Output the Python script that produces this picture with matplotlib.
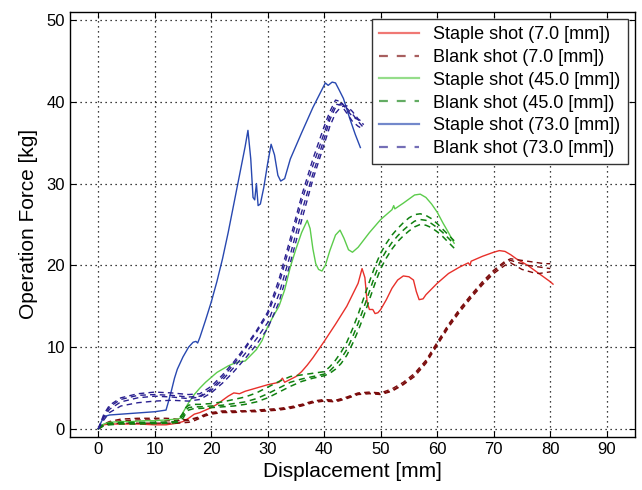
import matplotlib
matplotlib.use("Agg")
import matplotlib.pyplot as plt
from matplotlib.lines import Line2D

plt.rcParams['font.family'] = ['Liberation Sans', 'DejaVu Sans']

# ---------------- data ----------------
# Staple shot 7.0 mm
s7_x = [0, 0.5, 1, 2, 4, 7, 10, 12, 14, 15, 16, 17, 18, 19, 20, 21, 22, 23, 24, 25, 26, 28, 30, 32,
        32.6, 33.0, 35, 36, 37, 38, 39, 40, 42, 44, 46, 46.7, 47.2, 47.6, 48, 48.6, 49, 49.5, 50, 51,
        52, 53, 54, 55, 55.8, 56.3, 56.8, 57.5, 58, 60, 62, 64, 65.5, 65.8, 66, 68, 70, 71, 72, 73,
        74, 76, 78, 80, 80.5]
s7_y = [0, 0.3, 0.5, 0.6, 0.6, 0.6, 0.5, 0.5, 0.7, 0.9, 1.3, 1.8, 2.0, 2.3, 2.6, 3.0, 3.5, 4.0, 4.4,
        4.3, 4.6, 5.0, 5.4, 5.7, 6.2, 5.7, 6.4, 7.0, 7.8, 8.7, 9.7, 10.7, 12.8, 15.0, 17.8, 19.6,
        18.5, 15.5, 14.6, 14.6, 14.1, 14.2, 14.6, 15.8, 17.2, 18.2, 18.7, 18.6, 18.2, 16.8, 15.8,
        15.9, 16.4, 17.8, 19.0, 19.8, 20.3, 20.0, 20.5, 21.1, 21.6, 21.8, 21.7, 21.3, 20.8, 20.0,
        19.0, 18.0, 17.7]

# Blank shot 7.0 mm (three repeats)
b7_x = [0, 1, 2, 4, 7, 10, 12, 14, 16, 17, 18, 19, 20, 22, 24, 26, 28, 30, 32, 34, 36, 38, 40, 42,
        44, 46, 48, 50, 52, 54, 56, 58, 60, 62, 64, 66, 68, 70, 72, 73, 74, 75, 76, 77, 78, 79, 80]
b7_y1 = [0, 0.6, 0.9, 1.2, 1.3, 1.3, 1.3, 1.2, 1.1, 1.3, 1.5, 1.8, 2.0, 2.2, 2.2, 2.2, 2.3, 2.4,
         2.5, 2.7, 3.0, 3.4, 3.6, 3.5, 3.9, 4.4, 4.5, 4.4, 4.9, 5.7, 6.8, 8.4, 10.6, 12.8, 14.7,
         16.4, 18.0, 19.4, 20.5, 20.8, 20.7, 20.6, 20.5, 20.4, 20.3, 20.2, 20.2]
b7_y2 = [0, 0.4, 0.6, 0.7, 0.7, 0.7, 0.7, 0.7, 0.8, 1.0, 1.3, 1.6, 1.8, 2.0, 2.0, 2.1, 2.1, 2.2,
         2.3, 2.5, 2.8, 3.2, 3.4, 3.3, 3.7, 4.2, 4.3, 4.2, 4.6, 5.4, 6.4, 8.0, 10.2, 12.4, 14.3,
         16.0, 17.6, 19.0, 20.0, 20.3, 19.9, 19.5, 19.3, 19.1, 19.0, 19.1, 19.2]
b7_y3 = [0, 0.5, 0.8, 1.0, 1.1, 1.1, 1.0, 1.0, 1.0, 1.2, 1.4, 1.7, 1.9, 2.1, 2.1, 2.2, 2.2, 2.3,
         2.4, 2.6, 2.9, 3.3, 3.5, 3.4, 3.8, 4.3, 4.4, 4.3, 4.7, 5.5, 6.6, 8.2, 10.4, 12.6, 14.5,
         16.2, 17.8, 19.2, 20.3, 20.6, 20.4, 20.2, 20.0, 19.9, 19.8, 19.7, 19.6]

# Staple shot 45.0 mm
s45_x = [0, 0.5, 1, 2, 4, 6, 8, 10, 12, 14, 14.5, 15, 16, 17, 18, 19, 20, 21, 22, 23, 24, 25, 26,
         28, 29, 30, 31, 32, 33, 34, 35, 36, 37, 37.5, 38, 38.5, 39, 39.6, 40.2, 41, 42, 42.8,
         43.5, 44.3, 45, 46, 48, 50, 52, 52.3, 52.5, 54, 56, 57, 58, 59, 60, 61, 62, 63]
s45_y = [0, 0.4, 0.6, 0.8, 0.9, 0.9, 1.0, 1.0, 1.1, 1.2, 1.3, 2.0, 3.2, 4.2, 5.0, 5.7, 6.3, 6.9,
         7.3, 7.7, 8.0, 8.2, 8.3, 9.7, 10.8, 12.5, 13.8, 15.0, 17.0, 19.8, 22.0, 24.0, 25.5, 24.5,
         22.0, 20.2, 19.5, 19.3, 20.0, 21.8, 23.7, 24.3, 23.3, 21.9, 21.6, 22.2, 24.0, 25.6, 26.8,
         27.3, 26.9, 27.6, 28.6, 28.7, 28.3, 27.5, 26.5, 25.2, 24.0, 22.7]

# Blank shot 45.0 mm (three repeats)
b45_x = [0, 1, 2, 4, 7, 10, 13, 14, 15, 15.5, 16, 17, 18, 20, 22, 24, 26, 28, 30, 32, 34, 36, 38,
         40, 41, 42, 43, 44, 45, 46, 47, 48, 49, 50, 51, 52, 53, 54, 55, 56, 57, 58, 59, 60, 61, 62, 63]
b45_y1 = [0, 0.5, 0.6, 0.7, 0.7, 0.75, 0.8, 0.9, 1.6, 2.3, 2.6, 2.7, 2.7, 2.8, 2.9, 3.1, 3.3, 3.7,
          4.3, 5.0, 5.7, 6.1, 6.4, 6.7, 7.1, 7.8, 8.6, 9.7, 11.2, 12.9, 14.8, 16.8, 18.8, 20.6,
          21.8, 22.8, 23.6, 24.3, 24.9, 25.4, 25.6, 25.5, 25.1, 24.6, 24.0, 23.3, 22.6]
b45_y2 = [0, 0.6, 0.7, 0.8, 0.8, 0.8, 0.85, 1.0, 1.9, 2.6, 2.9, 3.0, 3.0, 3.1, 3.3, 3.6, 3.9, 4.4,
          5.1, 5.8, 6.4, 6.6, 6.8, 7.0, 7.6, 8.4, 9.4, 10.6, 12.2, 14.0, 16.0, 18.0, 19.9, 21.5,
          22.7, 23.7, 24.5, 25.2, 25.8, 26.2, 26.3, 26.1, 25.7, 25.1, 24.4, 23.7, 23.0]
b45_y3 = [0, 0.4, 0.5, 0.6, 0.6, 0.65, 0.7, 0.8, 1.3, 1.9, 2.3, 2.5, 2.5, 2.6, 2.7, 2.8, 3.0, 3.3,
          3.8, 4.5, 5.2, 5.8, 6.2, 6.5, 6.8, 7.3, 8.0, 9.0, 10.4, 12.0, 13.8, 15.8, 17.8, 19.6,
          20.9, 22.0, 22.9, 23.6, 24.2, 24.7, 25.0, 24.9, 24.6, 24.1, 23.5, 22.8, 22.1]

# Staple shot 73.0 mm
s73_x = [0, 0.5, 1, 2, 4, 6, 8, 10, 12, 12.5, 13, 13.5, 14, 15, 16, 16.8, 17.3, 17.6, 18, 19, 20,
         21, 22, 23, 24, 25, 26, 26.5, 27, 27.4, 27.7, 28.0, 28.3, 28.7, 29.3, 30, 30.6, 31.2, 31.8,
         32.3, 33, 34, 36, 38, 40.2, 40.7, 41.4, 42, 42.6, 43.4, 44.5, 45.5, 46.4]
s73_y = [0, 0.8, 1.5, 1.7, 1.8, 1.9, 2.0, 2.1, 2.3, 3.5, 4.8, 6.2, 7.3, 8.8, 10.0, 10.6, 10.7, 10.5,
         11.2, 13.3, 15.5, 18.0, 20.8, 24.0, 27.5, 31.0, 34.5, 36.5, 33.0, 28.3, 28.0, 30.0, 27.3,
         27.5, 29.5, 32.5, 34.8, 33.5, 31.0, 30.3, 30.6, 33.0, 36.2, 39.3, 42.3, 42.0, 42.4, 42.3,
         41.5, 40.4, 38.0, 36.0, 34.4]

# Blank shot 73.0 mm (four repeats)
b73_x = [0, 1, 2, 4, 7, 10, 13, 16, 18, 20, 22, 24, 26, 28, 30, 32, 34, 36, 38, 40, 41, 42, 43,
         44, 45, 46, 47]
b73_y1 = [0, 1.8, 2.9, 3.8, 4.3, 4.5, 4.4, 4.2, 4.3, 5.2, 6.6, 8.2, 10.0, 12.0, 14.3, 18.3, 23.3,
          28.5, 33.0, 37.0, 38.8, 40.2, 40.0, 39.0, 38.2, 37.8, 37.2]
b73_y2 = [0, 1.4, 2.4, 3.3, 3.8, 4.0, 3.9, 3.7, 3.9, 4.7, 6.0, 7.5, 9.2, 11.0, 13.0, 16.5, 21.3,
          26.5, 31.2, 35.5, 37.8, 39.3, 39.8, 39.2, 38.5, 37.6, 36.8]
b73_y3 = [0, 1.1, 2.0, 2.8, 3.2, 3.4, 3.5, 3.4, 3.6, 4.4, 5.6, 7.0, 8.6, 10.3, 12.3, 15.5, 20.3,
          25.5, 30.5, 34.8, 37.0, 38.6, 39.4, 39.5, 38.8, 37.9, 37.4]
b73_y4 = [0, 1.6, 2.7, 3.6, 4.1, 4.2, 4.1, 3.9, 4.0, 4.9, 6.3, 7.9, 9.8, 11.8, 14.0, 17.7, 22.6,
          27.8, 32.2, 36.2, 38.3, 39.7, 39.6, 38.6, 37.6, 37.0, 36.6]

labels = ['Staple shot (7.0 [mm])', 'Blank shot (7.0 [mm])',
          'Staple shot (45.0 [mm])', 'Blank shot (45.0 [mm])',
          'Staple shot (73.0 [mm])', 'Blank shot (73.0 [mm])']

x_ticks = [0, 10, 20, 30, 40, 50, 60, 70, 80, 90]
y_ticks = [0, 10, 20, 30, 40, 50]

# ---------------- style ----------------
c_s7, c_b7 = '#e8302a', '#7a0a0a'
c_s45, c_b45 = '#5ccc4c', '#108010'
c_s73, c_b73 = '#2848b0', '#2a2090'
dash = (4, 3)

fig = plt.figure(figsize=(6.42, 4.9), dpi=100)
ax = fig.add_axes([0.109, 0.108, 0.880, 0.868])

ax.plot(s7_x, s7_y, color=c_s7, lw=1.0)
for yy in (b7_y1, b7_y2, b7_y3):
    ax.plot(b7_x, yy, color=c_b7, lw=1.0, dashes=dash)
ax.plot(s45_x, s45_y, color=c_s45, lw=1.0)
for yy in (b45_y1, b45_y2, b45_y3):
    ax.plot(b45_x, yy, color=c_b45, lw=1.1, dashes=dash)
ax.plot(s73_x, s73_y, color=c_s73, lw=1.0)
for yy in (b73_y1, b73_y2, b73_y3, b73_y4):
    ax.plot(b73_x, yy, color=c_b73, lw=1.0, dashes=dash)

ax.set_xlim(-5, 95)
ax.set_ylim(-1, 51)
ax.set_xticks(x_ticks)
ax.set_yticks(y_ticks)
ax.tick_params(direction='in', top=True, right=True, length=4, labelsize=12, color='black')
ax.grid(True, linestyle=(0, (1, 3)), color='black', lw=0.9)
for sp in ax.spines.values():
    sp.set_linewidth(1.0)
ax.set_xlabel('Displacement [mm]', fontsize=15, labelpad=4)
ax.set_ylabel('Operation Force [kg]', fontsize=15, labelpad=6)

colors = [c_s7, c_b7, c_s45, c_b45, c_s73, c_b73]
handles = []
for i, (c, lab) in enumerate(zip(colors, labels)):
    if i % 2 == 0:
        handles.append(Line2D([], [], color=c, lw=1.6, alpha=0.65))
    else:
        handles.append(Line2D([], [], color=c, lw=1.6, alpha=0.65, dashes=(4, 4)))
leg = ax.legend(handles, labels, loc='upper right', fontsize=13, fancybox=False,
                framealpha=1, edgecolor='#333333', labelspacing=0.32,
                borderaxespad=0.4, handlelength=2.2)
leg.get_frame().set_linewidth(1.0)

fig.savefig('out.png', dpi=100)
